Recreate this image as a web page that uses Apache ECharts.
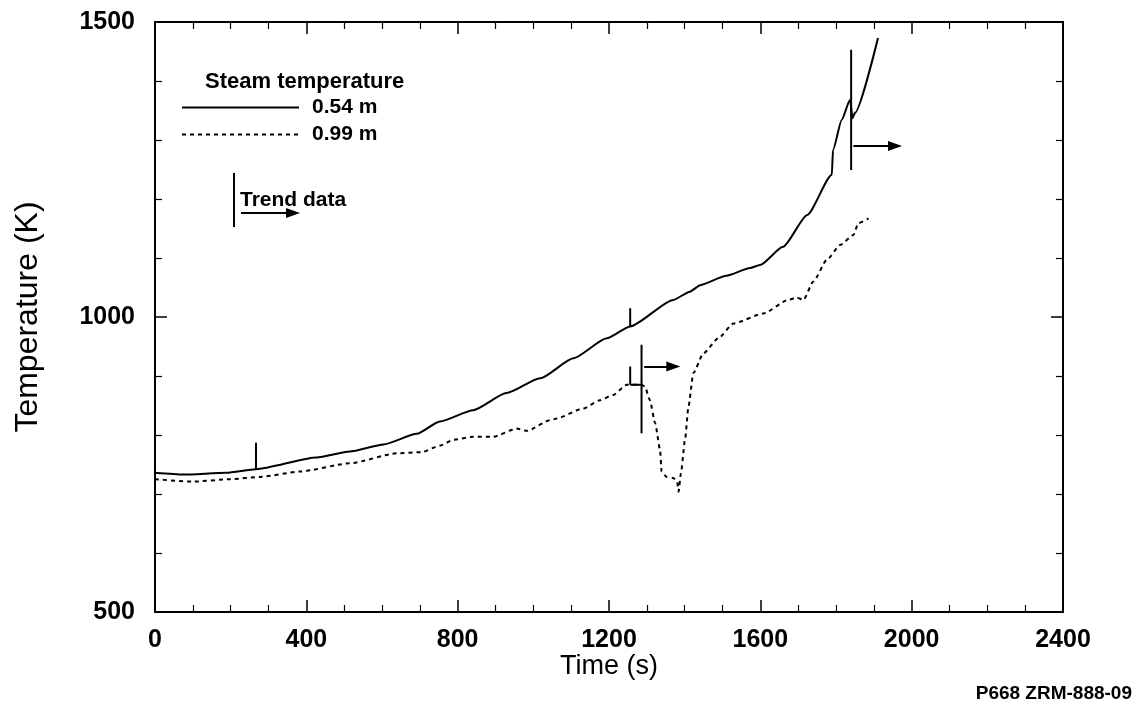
<!DOCTYPE html>
<html>
<head>
<meta charset="utf-8">
<script src="https://cdn.jsdelivr.net/npm/echarts@6/dist/echarts.min.js"></script>
<style>
html, body { margin: 0; padding: 0; background: #fff; }
#chart { width: 1147px; height: 710px; }
</style>
</head>
<body>
<div id="chart"></div>
<script>
// steam temperature at 0.54 m (solid)
var time054 = [0, 75, 189, 267, 427, 515, 604, 692, 753, 841, 929, 1018, 1106, 1194, 1256, 1370, 1414, 1441, 1510, 1573, 1599, 1660, 1724, 1789, 1792, 1815, 1837, 1844, 1850, 1911];
var temp054 = [736, 733, 736, 742, 762, 772, 784, 802, 823, 842, 871, 896, 930, 964, 984, 1029, 1043, 1054, 1070, 1083, 1088, 1119, 1173, 1241, 1283, 1334, 1368, 1337, 1346, 1473];

// steam temperature at 0.99 m (dashed)
var time099 = [0, 101, 198, 278, 383, 515, 639, 705, 753, 790, 841, 894, 956, 983, 1044, 1062, 1132, 1176, 1211, 1247, 1286, 1295, 1308, 1322, 1335, 1339, 1352, 1370, 1380, 1384, 1390, 1401, 1410, 1423, 1449, 1489, 1529, 1608, 1674, 1696, 1714, 1740, 1776, 1811, 1846, 1859, 1886];
var temp099 = [725, 721, 725, 729, 738, 752, 769, 771, 782, 792, 797, 797, 811, 807, 825, 828, 845, 859, 868, 885, 885, 882, 859, 820, 775, 738, 729, 727, 721, 704, 735, 792, 848, 905, 938, 964, 989, 1006, 1029, 1033, 1029, 1060, 1097, 1122, 1139, 1159, 1167];

// trend data markers: vertical ticks (time, low, high)
var trendTime = [267, 1256, 1256, 1286, 1840];
var trendLow = [742, 984, 885, 803, 1249];
var trendHigh = [787, 1015, 916, 953, 1453];

// trend data arrows (start time, end time, temperature)
var arrowStart = [1293, 1846];
var arrowEnd = [1370, 1956];
var arrowTemp = [916, 1290];

var xTicks = [0, 400, 800, 1200, 1600, 2000, 2400];
var yTicks = [500, 1000, 1500];

function pairs(xs, ys) {
	var out = [];
	for (var i = 0; i < xs.length; i++) {
		out.push([xs[i], ys[i]]);
	}
	return out;
}

var trendData = [];
for (var i = 0; i < trendTime.length; i++) {
	trendData.push([trendTime[i], trendLow[i]]);
	trendData.push([trendTime[i], trendHigh[i]]);
	trendData.push('-');
}
// small tie between the two markers on the 0.99 m trace
trendData.push([1256, 885]);
trendData.push([1286, 885]);

var arrowLines = [];
for (var j = 0; j < arrowStart.length; j++) {
	arrowLines.push([{ coord: [arrowStart[j], arrowTemp[j]] }, { coord: [arrowEnd[j], arrowTemp[j]] }]);
}

var chart = echarts.init(document.getElementById('chart'));

var fontFam = 'Liberation Sans, Arial, sans-serif';

// frame axes (top / right) only mirror the ticks
function frameAxis(pos, min, max, interval, minorSplit) {
	return {
		type: 'value',
		position: pos,
		min: min,
		max: max,
		interval: interval,
		axisLine: { show: true, onZero: false, lineStyle: { color: '#000', width: 2 } },
		axisTick: { show: true, inside: true, length: 12, lineStyle: { color: '#000', width: 1.5 } },
		minorTick: { show: true, splitNumber: minorSplit, length: 7, lineStyle: { color: '#000', width: 1.2 } },
		splitLine: { show: false },
		axisLabel: { show: false }
	};
}

var option = {
	backgroundColor: '#fff',
	animation: false,
	grid: {
		left: 155,
		right: 84,
		top: 22,
		bottom: 98
	},
	title: {
		text: 'Steam temperature',
		left: 205,
		top: 71,
		padding: 0,
		textStyle: {
			fontFamily: fontFam,
			fontSize: 22,
			fontWeight: 'bold',
			color: '#000'
		}
	},
	legend: {
		orient: 'vertical',
		left: 181,
		top: 97,
		padding: 0,
		itemWidth: 117,
		itemHeight: 12,
		itemGap: 6,
		itemStyle: { opacity: 0 },
		data: ['0.54 m', '0.99 m'],
		textStyle: {
			fontFamily: fontFam,
			fontSize: 21,
			fontWeight: 'bold',
			color: '#000',
			padding: [0, 0, 0, 8]
		}
	},
	graphic: [
		{ type: 'line', shape: { x1: 234, y1: 173, x2: 234, y2: 227 }, style: { stroke: '#000', lineWidth: 2 } },
		{ type: 'line', shape: { x1: 241, y1: 213, x2: 290, y2: 213 }, style: { stroke: '#000', lineWidth: 2 } },
		{ type: 'polygon', shape: { points: [[286, 208], [300, 213], [286, 218]] }, style: { fill: '#000' } },
		{ type: 'text', left: 240, top: 190, style: { text: 'Trend data', font: 'bold 21px ' + fontFam, fill: '#000' } },
		{ type: 'text', right: 15, bottom: 7, style: { text: 'P668 ZRM-888-09', font: 'bold 19px ' + fontFam, fill: '#000' } }
	],
	xAxis: [{
		type: 'value',
		min: 0,
		max: 2400,
		interval: 400,
		name: 'Time (s)',
		nameLocation: 'middle',
		nameGap: 41,
		nameMoveOverlap: false,
		nameTextStyle: { fontFamily: fontFam, fontSize: 27, color: '#000' },
		axisLine: { show: true, onZero: false, lineStyle: { color: '#000', width: 2 } },
		axisTick: { show: true, inside: true, length: 12, lineStyle: { color: '#000', width: 1.5 } },
		minorTick: { show: true, splitNumber: 4, length: 7, lineStyle: { color: '#000', width: 1.2 } },
		splitLine: { show: false },
		axisLabel: {
			margin: 16,
			fontFamily: fontFam,
			fontSize: 25,
			fontWeight: 'bold',
			color: '#000',
			formatter: function(v) { return xTicks.indexOf(v) >= 0 ? String(v) : ''; }
		}
	}, frameAxis('top', 0, 2400, 400, 4)],
	yAxis: [{
		type: 'value',
		min: 500,
		max: 1500,
		interval: 500,
		name: 'Temperature (K)',
		nameLocation: 'middle',
		nameRotate: 90,
		nameGap: 111,
		nameMoveOverlap: false,
		nameTextStyle: { fontFamily: fontFam, fontSize: 32, color: '#000' },
		axisLine: { show: true, onZero: false, lineStyle: { color: '#000', width: 2 } },
		axisTick: { show: true, inside: true, length: 12, lineStyle: { color: '#000', width: 1.5 } },
		minorTick: { show: true, splitNumber: 5, length: 7, lineStyle: { color: '#000', width: 1.2 } },
		splitLine: { show: false },
		axisLabel: {
			margin: 20,
			fontFamily: fontFam,
			fontSize: 25,
			fontWeight: 'bold',
			color: '#000',
			formatter: function(v) { return yTicks.indexOf(v) >= 0 ? String(v) : ''; }
		}
	}, frameAxis('right', 500, 1500, 500, 5)],
	series: [{
		name: '0.54 m',
		type: 'line',
		data: pairs(time054, temp054),
		symbol: 'none',
		smooth: 0.2,
		smoothMonotone: 'x',
		lineStyle: { color: '#000', width: 2, type: 'solid' },
		itemStyle: { color: '#000' }
	}, {
		name: '0.99 m',
		type: 'line',
		data: pairs(time099, temp099),
		symbol: 'none',
		smooth: 0.2,
		smoothMonotone: 'x',
		lineStyle: { color: '#000', width: 2, type: [4, 4] },
		itemStyle: { color: '#000' }
	}, {
		name: 'Trend data',
		type: 'line',
		data: trendData,
		symbol: 'none',
		connectNulls: false,
		lineStyle: { color: '#000', width: 2 },
		itemStyle: { color: '#000' },
		markLine: {
			silent: true,
			symbol: ['none', 'triangle'],
			symbolSize: [10, 14],
			label: { show: false },
			lineStyle: { color: '#000', width: 2, type: 'solid' },
			data: arrowLines
		}
	}]
};
chart.setOption(option);
</script>
</body>
</html>
